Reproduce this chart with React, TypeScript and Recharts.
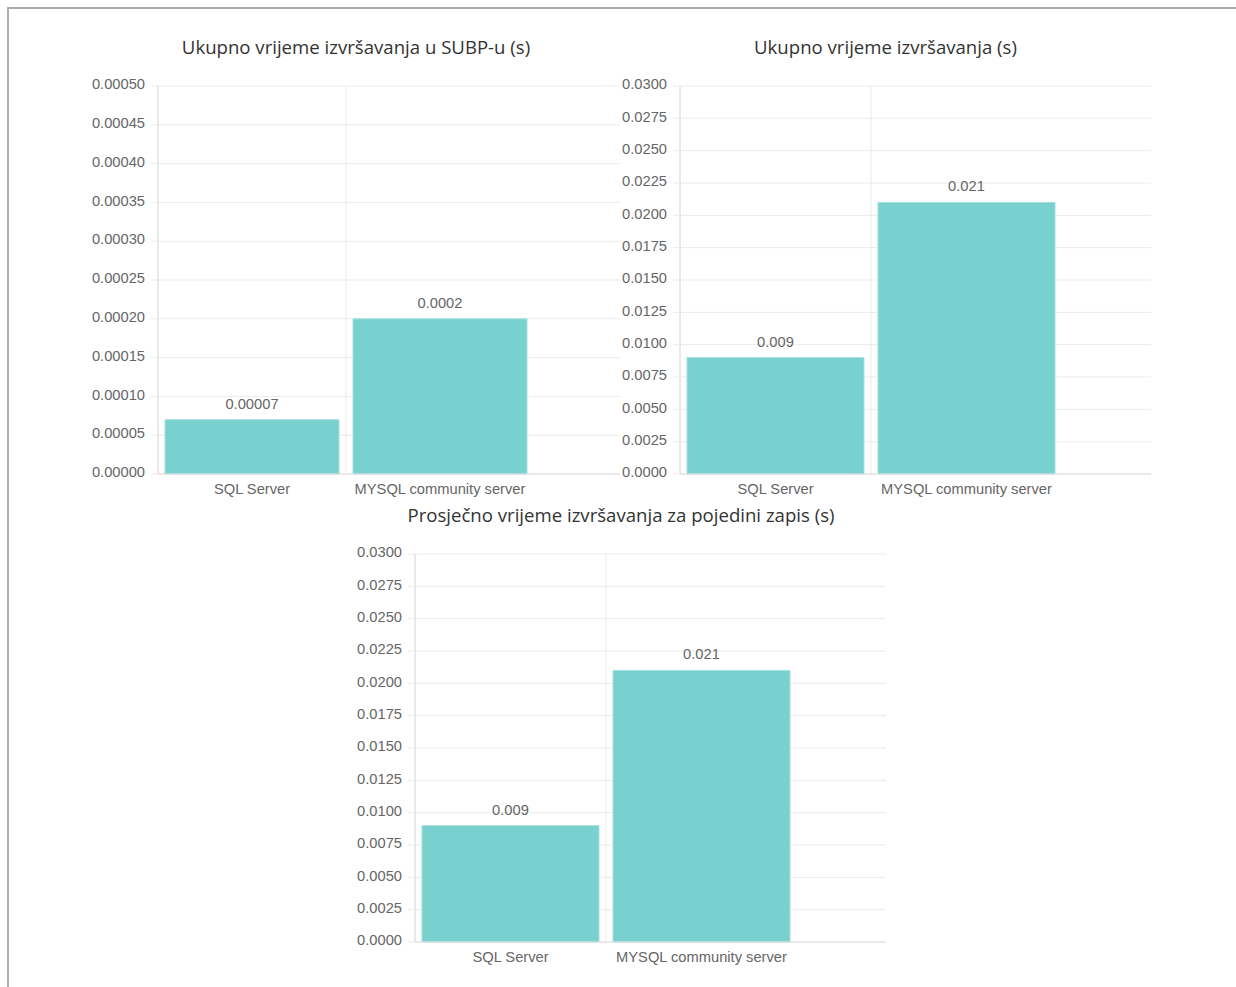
import React from 'react';
import { BarChart, Bar, XAxis, YAxis, CartesianGrid, LabelList, ReferenceLine } from 'recharts';

const categories = ['SQL Server', 'MYSQL community server'];
const subpTimes = [0.00007, 0.0002];
const totalTimes = [0.009, 0.021];
const avgTimes = [0.009, 0.021];
const subpTicks = [0, 0.00005, 0.0001, 0.00015, 0.0002, 0.00025, 0.0003, 0.00035, 0.0004, 0.00045, 0.0005];
const totalTicks = [0, 0.0025, 0.005, 0.0075, 0.01, 0.0125, 0.015, 0.0175, 0.02, 0.0225, 0.025, 0.0275, 0.03];
const titles = [
  'Ukupno vrijeme izvršavanja u SUBP-u (s)',
  'Ukupno vrijeme izvršavanja (s)',
  'Prosječno vrijeme izvršavanja za pojedini zapis (s)',
];

const GRID = '#ebebeb';
const AXIS = '#dedede';
const BAR_FILL = '#79d1cf';
const BAR_STROKE = '#a6e0df';
const FONT = '"Liberation Sans", Arial, sans-serif';
const TICK_FONT = { fill: '#666', fontSize: 14.7, fontFamily: FONT };

const toData = (values: number[]) => categories.map((name, i) => ({ name, value: values[i] }));

const fmtLabel = (v: any) => {
  const n = Number(v);
  let s = n.toFixed(6);
  s = s.replace(/0+$/, '').replace(/\.$/, '');
  return s;
};

type PanelProps = {
  title: string;
  values: number[];
  ticks: number[];
  decimals: number;
  left: number;
  top: number;
  width: number;
  height: number;
  yWidth: number;
  padRight: number;
};

function Panel({ title, values, ticks, decimals, left, top, width, height, yWidth, padRight }: PanelProps) {
  const data = toData(values);
  return (
    <>
      <div
        style={{
          position: 'absolute',
          left,
          top: top - 34,
          width,
          textAlign: 'center',
          fontFamily: '"Open Sans", "Noto Sans", sans-serif',
          fontSize: 18.6,
          lineHeight: '22px',
          color: '#333',
          whiteSpace: 'nowrap',
        }}
      >
        {title}
      </div>
      <div style={{ position: 'absolute', left, top, width, height, background: '#fff' }}>
        <BarChart
          width={width}
          height={height}
          data={data}
          margin={{ top: 16, right: 0, left: 0, bottom: 0 }}
          barCategoryGap={7}
        >
          <CartesianGrid stroke={GRID} vertical={false} />
          {categories.map((c) => (
            <ReferenceLine key={c} x={c} position="start" stroke={GRID} ifOverflow="visible" />
          ))}
          <XAxis
            dataKey="name"
            interval={0}
            tickLine={false}
            axisLine={{ stroke: AXIS }}
            tick={TICK_FONT}
            tickMargin={4}
            height={30}
            padding={{ left: 0, right: padRight }}
          />
          <YAxis
            width={yWidth}
            domain={[ticks[0], ticks[ticks.length - 1]]}
            ticks={ticks}
            interval={0}
            tickFormatter={(v: number) => v.toFixed(decimals)}
            tick={{ ...TICK_FONT, dy: -2 }}
            tickLine={{ stroke: GRID }}
            tickSize={7}
            tickMargin={6}
            axisLine={{ stroke: AXIS }}
          />
          <Bar dataKey="value" fill={BAR_FILL} stroke={BAR_STROKE} strokeWidth={1} isAnimationActive={false}>
            <LabelList
              dataKey="value"
              position="top"
              offset={11}
              formatter={fmtLabel}
              style={{ fill: '#666', fontSize: 14.7, fontFamily: FONT }}
            />
          </Bar>
        </BarChart>
      </div>
    </>
  );
}

export default function App() {
  return (
    <div
      style={{
        position: 'fixed',
        left: 0,
        top: 0,
        width: 1236,
        height: 987,
        overflow: 'hidden',
        background: '#fff',
      }}
    >
      <div
        style={{
          position: 'absolute',
          left: 7,
          top: 7,
          width: 1300,
          height: 1100,
          borderTop: '2px solid #adadad',
          borderLeft: '2px solid #adadad',
        }}
      />
      <Panel title={titles[0]} values={subpTimes} ticks={subpTicks} decimals={5} left={90} top={70} width={532} height={434} yWidth={68} padRight={88} />
      <Panel title={titles[1]} values={totalTimes} ticks={totalTicks} decimals={4} left={620} top={70} width={531} height={434} yWidth={60} padRight={89} />
      <Panel title={titles[2]} values={avgTimes} ticks={totalTicks} decimals={4} left={356} top={538} width={530} height={434} yWidth={59} padRight={89} />
    </div>
  );
}
